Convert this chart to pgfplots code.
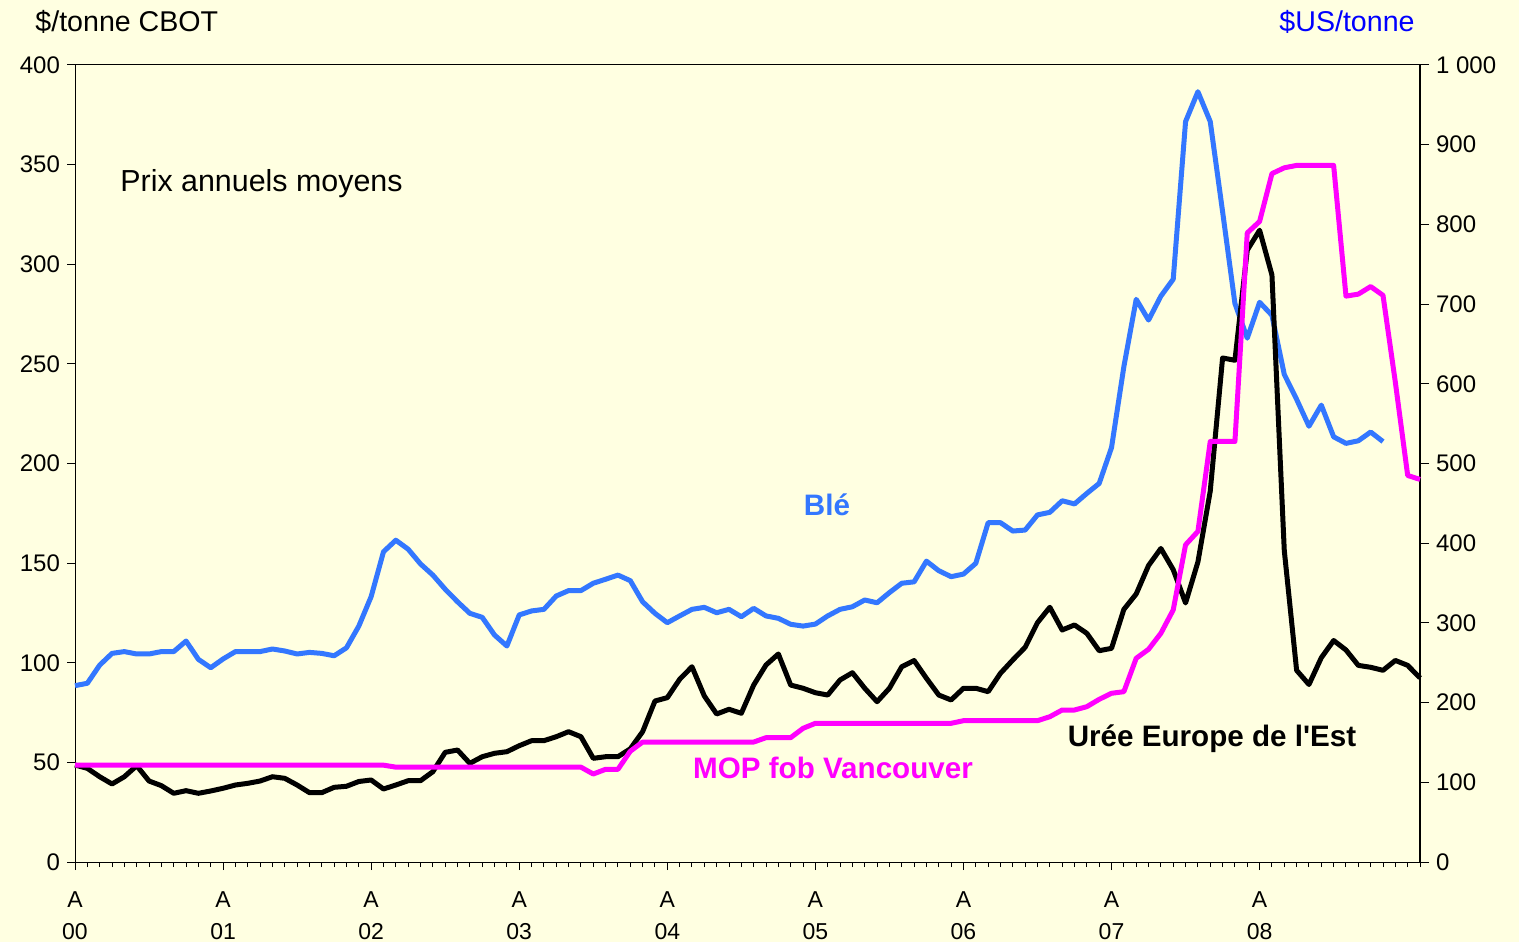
\documentclass[border=0pt]{standalone}
\usepackage{pgfplots}
\pgfplotsset{compat=1.18}
\usepackage{pgfplotstable}
\usepackage{fontspec}
\setmainfont{Liberation Sans}
\definecolor{bg}{RGB}{255,255,225}
\definecolor{ble}{RGB}{51,119,255}
\definecolor{mop}{RGB}{255,0,255}
\definecolor{usblue}{RGB}{0,0,255}

\pgfplotstableread{
i v
0 88.5
1 89.7
2 98.8
3 104.7
4 105.6
5 104.4
6 104.4
7 105.6
8 105.6
9 110.9
10 101.7
11 97.5
12 101.9
13 105.6
14 105.6
15 105.6
16 106.9
17 105.9
18 104.4
19 105.2
20 104.7
21 103.5
22 107.5
23 118.4
24 133.2
25 155.7
26 161.5
27 157
28 149.6
29 144
30 136.9
31 130.6
32 124.8
33 122.8
34 113.9
35 108.4
36 124
37 126
38 126.8
39 133.5
40 136.2
41 136.2
42 139.9
43 141.9
44 144
45 141.2
46 130.6
47 124.8
48 120.1
49 123.5
50 126.8
51 127.8
52 125.1
53 126.8
54 123.1
55 127.3
56 123.5
57 122.3
58 119.3
59 118.4
60 119.4
61 123.5
62 126.8
63 128.1
64 131.5
65 130.1
66 135.2
67 139.9
68 140.6
69 151
70 146.2
71 143.2
72 144.5
73 149.9
74 170.3
75 170.3
76 166.1
77 166.6
78 174.2
79 175.5
80 181.3
81 179.7
82 185
83 190
84 208
85 248.6
86 282.4
87 272
88 284
89 292.5
90 371.6
91 386.6
92 371.6
93 326.4
94 280.3
95 262.9
96 280.9
97 274.4
98 244.7
99 232.2
100 218.7
101 229.3
102 213.4
103 210.1
104 211.4
105 215.8
106 211
}\bletab

\pgfplotstableread{
i v
0 121.7
1 117.5
2 107
3 97.9
4 107
5 120.8
6 101.6
7 95.8
8 86.2
9 89.5
10 86.2
11 89.1
12 92.5
13 96.6
14 98.7
15 101.6
16 107
17 105
18 96.6
19 87
20 87
21 93.7
22 95
23 101
24 102.9
25 91.6
26 96.6
27 102
28 102
29 113.3
30 137.6
31 140.5
32 123.8
33 132.1
34 136.4
35 138.4
36 145.9
37 152.2
38 152.2
39 157.2
40 163.5
41 157.2
42 130.1
43 132.1
44 132.1
45 142
46 163.5
47 202
48 206.2
49 229.2
50 245
51 208.3
52 185.7
53 191.6
54 186.6
55 222
56 247.2
57 261
58 222
59 218
60 212.4
61 209.5
62 228.4
63 237.5
64 218
65 201.1
66 218
67 245
68 252.8
69 230.5
70 209.5
71 203.3
72 218
73 218
74 213.7
75 236.8
76 253.5
77 269.4
78 300.3
79 319.6
80 291.1
81 297.4
82 286.9
83 265.1
84 268.1
85 317
86 336.3
87 372
88 393.4
89 366.8
90 325
91 376.4
92 465.3
93 632.4
94 629.5
95 767.7
96 792.7
97 736.5
98 390.8
99 240.5
100 222.7
101 256.3
102 277.9
103 266
104 246.7
105 244.3
106 240.5
107 252.9
108 246.7
109 230.9
}\ureetab

\pgfplotstableread{
i v
0 121.5
25 121.5
26 119
41 119
42 110.4
43 116.3
44 116.3
45 139
46 150.5
55 150.5
56 156
58 156
59 167.7
60 174
71 174
72 177.3
78 177.3
79 182.3
80 190.7
81 190.7
82 194.9
83 204.1
84 211.7
85 213.7
86 255.6
87 266.9
88 287
89 316.3
90 398
91 414.8
92 527.6
93 527.6
94 527.6
95 789.3
96 803.7
97 863.7
98 871
99 874
100 874
101 874
102 874
103 710
104 712.5
105 722
106 711
107 602
108 485
109 480
}\moptab

\begin{document}
\begin{tikzpicture}
\fill[bg] (-37.5pt,-40pt) rectangle (722pt,431pt);
\begin{axis}[
  scale only axis, width=672.5pt, height=398.5pt,
  at={(0pt,0pt)}, anchor=south west,
  xmin=0, xmax=109, ymin=0, ymax=400,
  xtick={0,12,...,96},
  xticklabels={{A\\00},{A\\01},{A\\02},{A\\03},{A\\04},{A\\05},{A\\06},{A\\07},{A\\08}},
  minor xtick={0,...,109},
  ytick={0,50,...,400},
  xtick pos=left, ytick pos=left,
  tick align=outside,
  major tick length=4pt, minor tick length=2.5pt,
  every tick/.style={black, line width=0.5pt},
  axis line style={line width=0.5pt},
  /pgf/number format/assume math mode=true,
  yticklabel style={font=\fontsize{12}{14}\selectfont},
  xticklabel style={align=center, font=\fontsize{11.5}{16}\selectfont, yshift=-7.5pt},
  clip=false,
]
\addplot[ble, line width=2.5pt, line join=round] table[x=i,y=v]{\bletab};
\end{axis}
\begin{axis}[
  scale only axis, width=672.5pt, height=398.5pt,
  at={(0pt,0pt)}, anchor=south west,
  xmin=0, xmax=109, ymin=0, ymax=1000,
  axis x line=none, axis y line*=right,
  ytick={0,100,...,1000},
  yticklabels={0,100,200,300,400,500,600,700,800,900,1 000},
  tick align=outside,
  major tick length=4.5pt,
  every tick/.style={black, line width=0.5pt},
  axis line style={line width=1pt},
  yticklabel style={font=\fontsize{12}{14}\selectfont},
  clip=false,
]
\addplot[black, line width=2.5pt, line join=round] table[x=i,y=v]{\ureetab};
\addplot[mop, line width=2.5pt, line join=round] table[x=i,y=v]{\moptab};
\end{axis}
\node[anchor=west, inner sep=0pt, font=\fontsize{14.3}{16}\selectfont] at (-20pt,420pt) {\$/tonne CBOT};
\node[anchor=east, inner sep=0pt, text=usblue, font=\fontsize{14.3}{16}\selectfont] at (670pt,420pt) {\$US/tonne};
\node[anchor=west, inner sep=0pt, font=\fontsize{15.2}{17}\selectfont] at (22.5pt,339pt) {Prix annuels moyens};
\node[text=ble, font=\bfseries\fontsize{14.8}{17}\selectfont] at (376pt,178.5pt) {Blé};
\node[text=mop, font=\bfseries\fontsize{14.8}{17}\selectfont] at (379pt,47pt) {MOP fob Vancouver};
\node[text=black, font=\bfseries\fontsize{14.8}{17}\selectfont] at (568.5pt,61.5pt) {Urée Europe de l\textquotesingle Est};
\pgfresetboundingbox
\path (-37.5pt,-40pt) rectangle (722pt,431pt);
\end{tikzpicture}
\end{document}
